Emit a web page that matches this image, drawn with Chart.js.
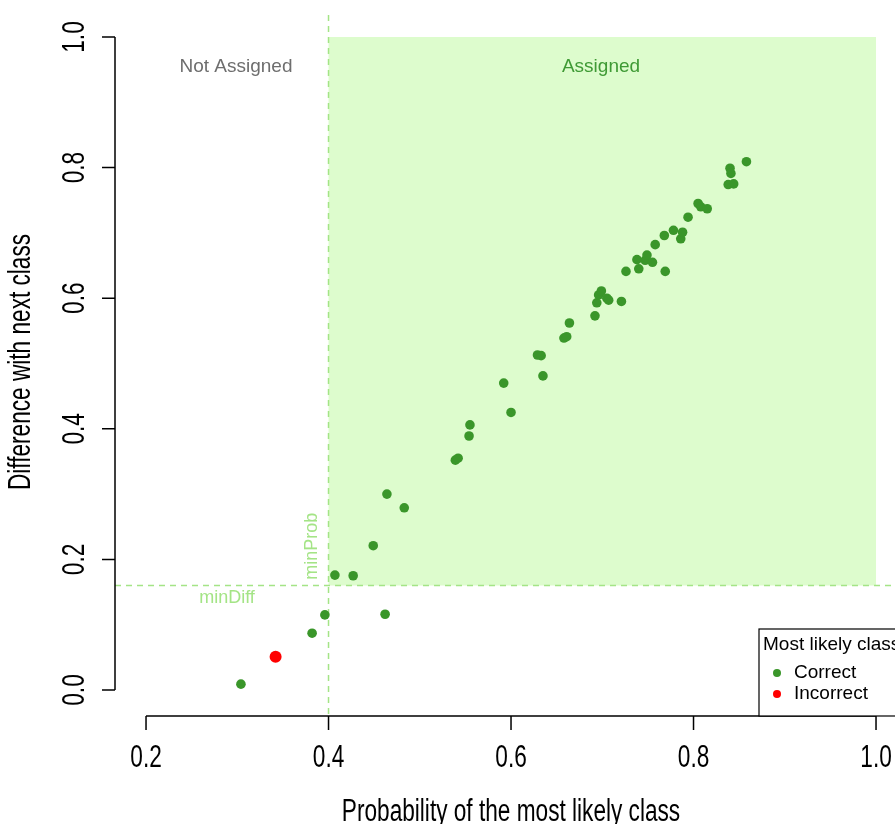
<!DOCTYPE html>
<html>
<head>
<meta charset="utf-8">
<script src="https://cdn.jsdelivr.net/npm/chart.js@4"></script>
<style>
  html, body { margin: 0; padding: 0; background: #fff; }
  #wrap { width: 895px; height: 824px; }
</style>
</head>
<body>
<div id="wrap"><canvas id="chart" width="895" height="824"></canvas></div>
<script>
// valores
const probCorrect = [0.304, 0.382, 0.396, 0.462, 0.407, 0.427, 0.449, 0.464, 0.483, 0.539,
  0.542, 0.554, 0.555, 0.592, 0.600, 0.635, 0.629, 0.633, 0.658, 0.661,
  0.664, 0.692, 0.694, 0.696, 0.699, 0.705, 0.707, 0.721, 0.726, 0.740,
  0.738, 0.747, 0.749, 0.755, 0.758, 0.769, 0.768, 0.778, 0.786, 0.788,
  0.794, 0.805, 0.808, 0.815, 0.838, 0.844, 0.840, 0.841, 0.858];
const diffCorrect = [0.009, 0.087, 0.115, 0.116, 0.176, 0.175, 0.221, 0.300, 0.279, 0.352,
  0.355, 0.389, 0.406, 0.470, 0.425, 0.481, 0.513, 0.512, 0.539, 0.541,
  0.562, 0.573, 0.593, 0.605, 0.611, 0.600, 0.597, 0.595, 0.641, 0.645,
  0.659, 0.658, 0.666, 0.655, 0.682, 0.641, 0.696, 0.704, 0.691, 0.701,
  0.724, 0.745, 0.740, 0.737, 0.774, 0.775, 0.799, 0.791, 0.809];
const probIncorrect = [0.342];
const diffIncorrect = [0.051];

const xTicks = [0.2, 0.4, 0.6, 0.8, 1.0];
const yTicks = [0.0, 0.2, 0.4, 0.6, 0.8, 1.0];
const minProb = 0.4;
const minDiff = 0.16;

const GREEN = "#3A962A";
const RED = "#FF0000";
const LIGHT = "#A4E486";

function toPoints(xs, ys) {
  return xs.map((x, i) => ({ x: x, y: ys[i] }));
}

// texto estreito, como no original
function narrowText(ctx, text, x, y, rot, size) {
  ctx.save();
  ctx.translate(x, y);
  ctx.rotate(rot);
  ctx.scale(0.73, 1);
  ctx.font = size + "px 'Liberation Sans', Arial, sans-serif";
  ctx.textAlign = "center";
  ctx.textBaseline = "middle";
  ctx.fillStyle = "#000";
  ctx.fillText(text, 0, 0);
  ctx.restore();
}

// fundo, linhas de limite e rótulos
const regions = {
  id: "regions",
  beforeDatasetsDraw(chart) {
    const ctx = chart.ctx;
    const xs = chart.scales.x, ys = chart.scales.y;
    const area = chart.chartArea;
    ctx.save();
    ctx.fillStyle = "#DDFCCD";
    const x0 = xs.getPixelForValue(minProb), x1 = xs.getPixelForValue(1.0);
    const y0 = ys.getPixelForValue(1.0), y1 = ys.getPixelForValue(minDiff);
    ctx.fillRect(x0, y0, x1 - x0, y1 - y0);

    ctx.strokeStyle = LIGHT;
    ctx.lineWidth = 1.5;
    ctx.setLineDash([6, 5]);
    ctx.beginPath();
    ctx.moveTo(area.left, y1);
    ctx.lineTo(area.right, y1);
    ctx.moveTo(x0, area.top + 4);
    ctx.lineTo(x0, area.bottom);
    ctx.stroke();
    ctx.setLineDash([]);

    ctx.font = "19px 'Liberation Sans', Arial, sans-serif";
    ctx.textAlign = "center";
    ctx.textBaseline = "middle";
    ctx.fillStyle = "#6E6E6E";
    ctx.fillText("Not Assigned", 236, 67);
    ctx.fillStyle = "#3F9A35";
    ctx.fillText("Assigned", 601, 67);

    ctx.fillStyle = LIGHT;
    ctx.font = "18px 'Liberation Sans', Arial, sans-serif";
    ctx.fillText("minDiff", 227, y1 + 13);
    ctx.save();
    ctx.translate(x0 - 16, ys.getPixelForValue(0.22));
    ctx.rotate(-Math.PI / 2);
    ctx.fillText("minProb", 0, 0);
    ctx.restore();
    ctx.restore();
  },
  afterDraw(chart) {
    const ctx = chart.ctx;
    const xs = chart.scales.x, ys = chart.scales.y;
    const axisY = chart.chartArea.bottom, axisX = chart.chartArea.left;
    ctx.save();
    ctx.strokeStyle = "#000";
    ctx.lineWidth = 1.5;

    // eixo x
    ctx.beginPath();
    ctx.moveTo(xs.getPixelForValue(xTicks[0]), axisY);
    ctx.lineTo(xs.getPixelForValue(xTicks[xTicks.length - 1]), axisY);
    xTicks.forEach(t => {
      const px = xs.getPixelForValue(t);
      ctx.moveTo(px, axisY);
      ctx.lineTo(px, axisY + 14);
    });
    ctx.stroke();
    xTicks.forEach(t => narrowText(ctx, t.toFixed(1), xs.getPixelForValue(t), axisY + 42, 0, 31));
    narrowText(ctx, "Probability of the most likely class", 511, 812, 0, 31);

    // eixo y
    ctx.beginPath();
    ctx.moveTo(axisX, ys.getPixelForValue(yTicks[0]));
    ctx.lineTo(axisX, ys.getPixelForValue(yTicks[yTicks.length - 1]));
    yTicks.forEach(t => {
      const py = ys.getPixelForValue(t);
      ctx.moveTo(axisX, py);
      ctx.lineTo(axisX - 13, py);
    });
    ctx.stroke();
    yTicks.forEach(t => narrowText(ctx, t.toFixed(1), 75, ys.getPixelForValue(t), -Math.PI / 2, 31));
    narrowText(ctx, "Difference with next class", 21, 362, -Math.PI / 2, 31);

    // legenda
    ctx.fillStyle = "#fff";
    ctx.fillRect(759, 629, 150, 87);
    ctx.lineWidth = 1.2;
    ctx.strokeRect(759, 629, 150, 87);
    ctx.fillStyle = "#000";
    ctx.font = "19px 'Liberation Sans', Arial, sans-serif";
    ctx.textAlign = "left";
    ctx.textBaseline = "middle";
    ctx.fillText("Most likely class", 763, 645);
    ctx.fillText("Correct", 794, 673);
    ctx.fillText("Incorrect", 794, 694);
    ctx.fillStyle = GREEN;
    ctx.beginPath(); ctx.arc(777, 673, 4, 0, Math.PI * 2); ctx.fill();
    ctx.fillStyle = RED;
    ctx.beginPath(); ctx.arc(777, 694, 4, 0, Math.PI * 2); ctx.fill();
    ctx.restore();
  }
};

new Chart(document.getElementById("chart"), {
  type: "scatter",
  data: {
    datasets: [
      {
        label: "Correct",
        data: toPoints(probCorrect, diffCorrect),
        backgroundColor: GREEN,
        borderColor: GREEN,
        pointRadius: 4.8,
        borderWidth: 0
      },
      {
        label: "Incorrect",
        data: toPoints(probIncorrect, diffIncorrect),
        backgroundColor: RED,
        borderColor: RED,
        pointRadius: 6,
        borderWidth: 0
      }
    ]
  },
  options: {
    responsive: false,
    animation: false,
    layout: { autoPadding: false, padding: { left: 115, top: 11, right: 0, bottom: 108 } },
    plugins: { legend: { display: false }, tooltip: { enabled: false } },
    scales: {
      x: { type: "linear", min: 0.166, max: 1.0208, display: false },
      y: { type: "linear", min: -0.0398, max: 1.0398, display: false }
    }
  },
  plugins: [regions]
});
</script>
</body>
</html>
